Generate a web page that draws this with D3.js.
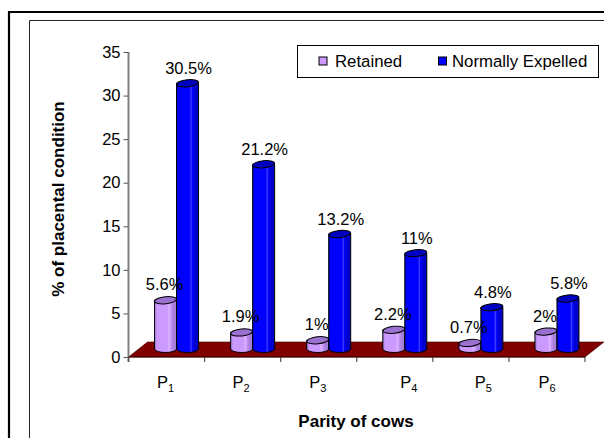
<!DOCTYPE html>
<html>
<head>
<meta charset="utf-8">
<script src="https://cdn.jsdelivr.net/npm/d3@7"></script>
<style>
  html, body { margin: 0; padding: 0; background: #fff; }
  svg { display: block; font-family: "Liberation Sans", Arial, sans-serif; }
</style>
</head>
<body>
<svg id="chart" width="604" height="438"></svg>
<script>
// ---------------- data ----------------
const categories = ["P1", "P2", "P3", "P4", "P5", "P6"];
const seriesNames = ["Retained", "Normally Expelled"];
const retained = [5.6, 1.9, 1.0, 2.2, 0.7, 2.0];
const expelled = [30.5, 21.2, 13.2, 11.0, 4.8, 5.8];
const retainedLabels = ["5.6%", "1.9%", "1%", "2.2%", "0.7%", "2%"];
const expelledLabels = ["30.5%", "21.2%", "13.2%", "11%", "4.8%", "5.8%"];
const yTicks = [0, 5, 10, 15, 20, 25, 30, 35];
const yTitle = "% of placental condition";
const xTitle = "Parity of cows";

// ---------------- layout / style ----------------
const W = 604, H = 438;
const plot = { left: 128.5, right: 585, top: 52, bottom: 357 };
const depth = { dx: 19, dy: -15 };       // floor depth
const barShift = { dx: 10, dy: -8 };     // bars stand mid-depth
const barW = 22;
const ry = 3.5;
const catLabelNudge = [-1, -1.5, -1, 14, 12.5, 0];
const colors = {
  retained: { side: "#CC99FF", top: "#9A70D0", dark: "#A77FDB", light: "#DDBBFF" },
  expelled: { side: "#0000FF", top: "#0000C0", dark: "#0000C8", light: "#4040FF" },
  floor: "#800000"
};

const svg = d3.select("#chart");

// outer frame (cropped at right and bottom)
svg.append("line").attr("x1", 9).attr("x2", W + 5).attr("y1", 12).attr("y2", 12)
  .attr("stroke", "#000").attr("stroke-width", 2.2);
svg.append("line").attr("x1", 9).attr("x2", 9).attr("y1", 11).attr("y2", H + 5)
  .attr("stroke", "#000").attr("stroke-width", 2.2);
svg.append("line").attr("x1", 29.5).attr("x2", W + 5).attr("y1", 20.5).attr("y2", 20.5)
  .attr("stroke", "#222").attr("stroke-width", 1);
svg.append("line").attr("x1", 29.5).attr("x2", 29.5).attr("y1", 20.5).attr("y2", H + 5)
  .attr("stroke", "#222").attr("stroke-width", 1);

// scales
const x = d3.scaleBand().domain(categories).range([plot.left, plot.right]).padding(0);
const y = d3.scaleLinear().domain([0, 35]).range([plot.bottom, plot.top]);

// gradients
const defs = svg.append("defs");
function grad(id, c) {
  const g = defs.append("linearGradient").attr("id", id)
    .attr("x1", "0%").attr("x2", "100%").attr("y1", "0%").attr("y2", "0%");
  [[0, c.dark], [0.12, c.side], [0.6, c.side], [0.66, c.light], [0.72, c.side], [0.85, c.dark], [1, c.dark]]
    .forEach(([o, col]) => g.append("stop").attr("offset", o).attr("stop-color", col));
}
grad("gRet", colors.retained);
grad("gExp", colors.expelled);

// floor
const y0 = y(0);
svg.append("path")
  .attr("d", `M${plot.left},${y0} L${plot.right},${y0} L${plot.right + depth.dx},${y0 + depth.dy} L${plot.left + depth.dx},${y0 + depth.dy} Z`)
  .attr("fill", colors.floor).attr("stroke", "#3a0000").attr("stroke-width", 0.6);

// y axis
const yAxis = svg.append("g").attr("transform", `translate(${plot.left},0)`)
  .call(d3.axisLeft(y).tickValues(yTicks).tickSize(5).tickPadding(3).tickFormat(d3.format("d")));
yAxis.select(".domain").attr("stroke", "#808080").attr("stroke-width", 2)
  .attr("d", `M0,${plot.top}V${plot.bottom + 5}`);
yAxis.selectAll(".tick line").attr("stroke", "#555");
yAxis.selectAll(".tick text").attr("font-size", 16.5).attr("fill", "#000")
  .attr("font-family", "'Liberation Sans', Arial, sans-serif");

// x axis ticks at category boundaries
const bounds = categories.map(c => x(c)).concat([plot.right]);
svg.append("g").selectAll("line").data(bounds).join("line")
  .attr("x1", d => d).attr("x2", d => d).attr("y1", y0).attr("y2", y0 + 5)
  .attr("stroke", "#555").attr("stroke-width", 1.2);
svg.append("line").attr("x1", plot.left).attr("x2", plot.right).attr("y1", y0).attr("y2", y0)
  .attr("stroke", "#3a0000").attr("stroke-width", 1);

// category labels with subscripts
const catG = svg.append("g");
categories.forEach((c, i) => {
  const t = catG.append("text")
    .attr("x", x(c) + x.bandwidth() / 2 + catLabelNudge[i]).attr("y", 388)
    .attr("text-anchor", "middle").attr("font-size", 16.5).attr("fill", "#000");
  t.append("tspan").text(c.charAt(0));
  t.append("tspan").attr("font-size", 11).attr("dy", 4).text(c.slice(1));
});

// cylinders
function cylinder(g, cx, vTop, fillId, c) {
  const rx = barW / 2;
  const base = y(0) + barShift.dy;
  const top = y(vTop) + barShift.dy;
  g.append("path")
    .attr("d", `M${cx - rx},${top} L${cx - rx},${base} A${rx},${ry} 0 0 0 ${cx + rx},${base} L${cx + rx},${top} Z`)
    .attr("fill", `url(#${fillId})`).attr("stroke", "#000").attr("stroke-width", 1);
  g.append("ellipse").attr("cx", cx).attr("cy", top).attr("rx", rx).attr("ry", ry)
    .attr("transform", `rotate(-6,${cx},${top})`)
    .attr("fill", c.top).attr("stroke", "#000").attr("stroke-width", 1);
}

const barsG = svg.append("g");
const labG = svg.append("g");
categories.forEach((c, i) => {
  const mid = x(c) + x.bandwidth() / 2 + barShift.dx;
  const cxR = mid - barW / 2, cxE = mid + barW / 2;
  cylinder(barsG, cxR, retained[i], "gRet", colors.retained);
  cylinder(barsG, cxE, expelled[i], "gExp", colors.expelled);
  labG.append("text").attr("x", cxR - 1).attr("y", y(retained[i]) + barShift.dy - 10)
    .attr("text-anchor", "middle").attr("font-size", 16.5).attr("fill", "#000").text(retainedLabels[i]);
  labG.append("text").attr("x", cxE + 1).attr("y", y(expelled[i]) + barShift.dy - 9)
    .attr("text-anchor", "middle").attr("font-size", 16.5).attr("fill", "#000").text(expelledLabels[i]);
});

// axis titles
svg.append("text").attr("transform", "translate(58,199) rotate(-90)")
  .attr("text-anchor", "middle").attr("dominant-baseline", "central")
  .attr("font-size", 17).attr("font-weight", "bold").attr("fill", "#000").text(yTitle);
svg.append("text").attr("x", 356).attr("y", 427).attr("text-anchor", "middle")
  .attr("font-size", 17).attr("font-weight", "bold").attr("fill", "#000").text(xTitle);

// legend
const leg = svg.append("g");
leg.append("rect").attr("x", 297.5).attr("y", 45.5).attr("width", 301).attr("height", 32)
  .attr("fill", "#fff").attr("stroke", "#000").attr("stroke-width", 1);
const legItems = [
  { name: seriesNames[0], color: colors.retained.side, mx: 319, tx: 335 },
  { name: seriesNames[1], color: colors.expelled.side, mx: 438.5, tx: 452 }
];
legItems.forEach(d => {
  leg.append("rect").attr("x", d.mx).attr("y", 57).attr("width", 8).attr("height", 8)
    .attr("fill", d.color).attr("stroke", "#000").attr("stroke-width", 1);
  leg.append("text").attr("x", d.tx).attr("y", 67).attr("font-size", 16.8).attr("fill", "#000").text(d.name);
});
</script>
</body>
</html>
